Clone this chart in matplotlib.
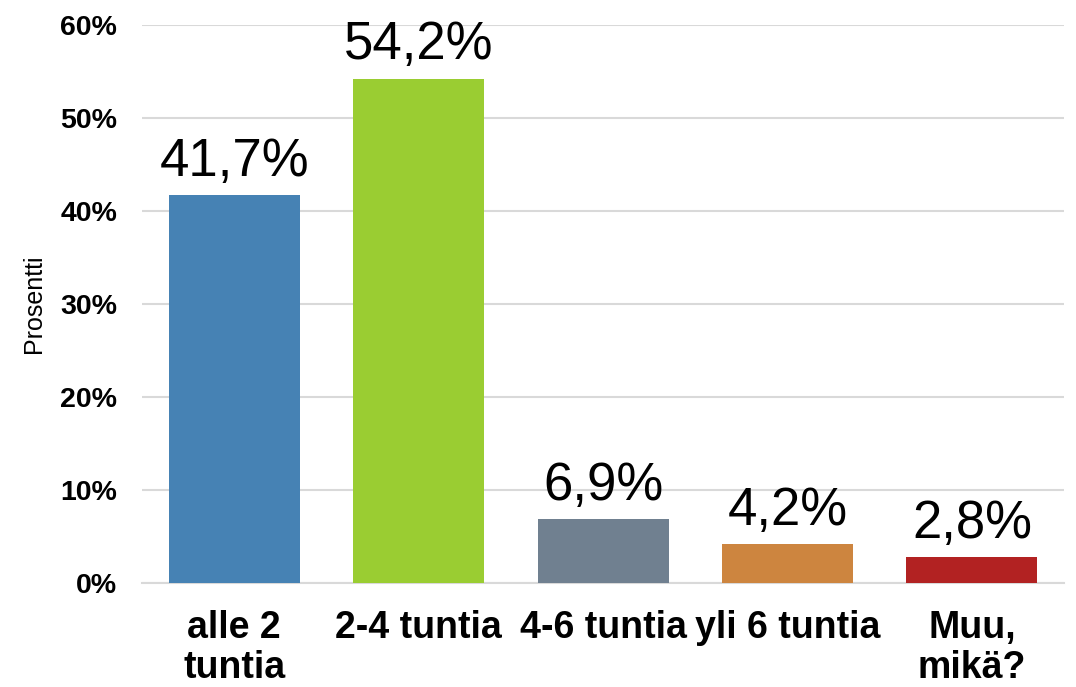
import matplotlib.pyplot as plt
import numpy as np

categories = ["alle 2\ntuntia", "2-4 tuntia", "4-6 tuntia", "yli 6 tuntia", "Muu,\nmikä?"]
values = [41.7, 54.2, 6.9, 4.2, 2.8]
colors = ["#4682B4", "#9ACD32", "#708090", "#CD853F", "#B22222"]
yticks = [0, 10, 20, 30, 40, 50, 60]

plt.rcParams['font.family'] = ['Liberation Sans', 'DejaVu Sans']

fig = plt.figure(figsize=(10.76, 6.87), dpi=100)
ax = fig.add_axes([0.132, 0.151, 0.857, 0.813])

x = np.arange(len(categories))
ax.bar(x, values, width=0.71, color=colors, zorder=3)

for xi, v in zip(x, values):
    label = ("%.1f%%" % v).replace(".", ",")
    ax.annotate(label, (xi, v), xytext=(0, 14), textcoords="offset points",
                ha="center", va="baseline", fontsize=38)

ax.set_xlim(-0.5, len(categories) - 0.5)
ax.set_ylim(0, 60)
ax.set_yticks(yticks)
ax.set_yticklabels(["%d%%" % t for t in yticks], fontsize=20.5, fontweight="bold")
ax.set_xticks(x)
ax.set_xticklabels(categories, fontsize=27, fontweight="bold", linespacing=1.14)
ax.tick_params(axis="both", length=0)
ax.tick_params(axis="x", pad=19)
ax.tick_params(axis="y", pad=18)
ax.grid(axis="y", color="#d9d9d9", linewidth=1.5, zorder=0)
for s in ["top", "right", "left"]:
    ax.spines[s].set_visible(False)
ax.spines["bottom"].set_color("#d9d9d9")
ax.spines["bottom"].set_linewidth(1.5)

ax.set_ylabel("Prosentti", fontsize=18)
ax.yaxis.set_label_coords(-0.104, 0.5)

fig.savefig("out.png", dpi=100)
